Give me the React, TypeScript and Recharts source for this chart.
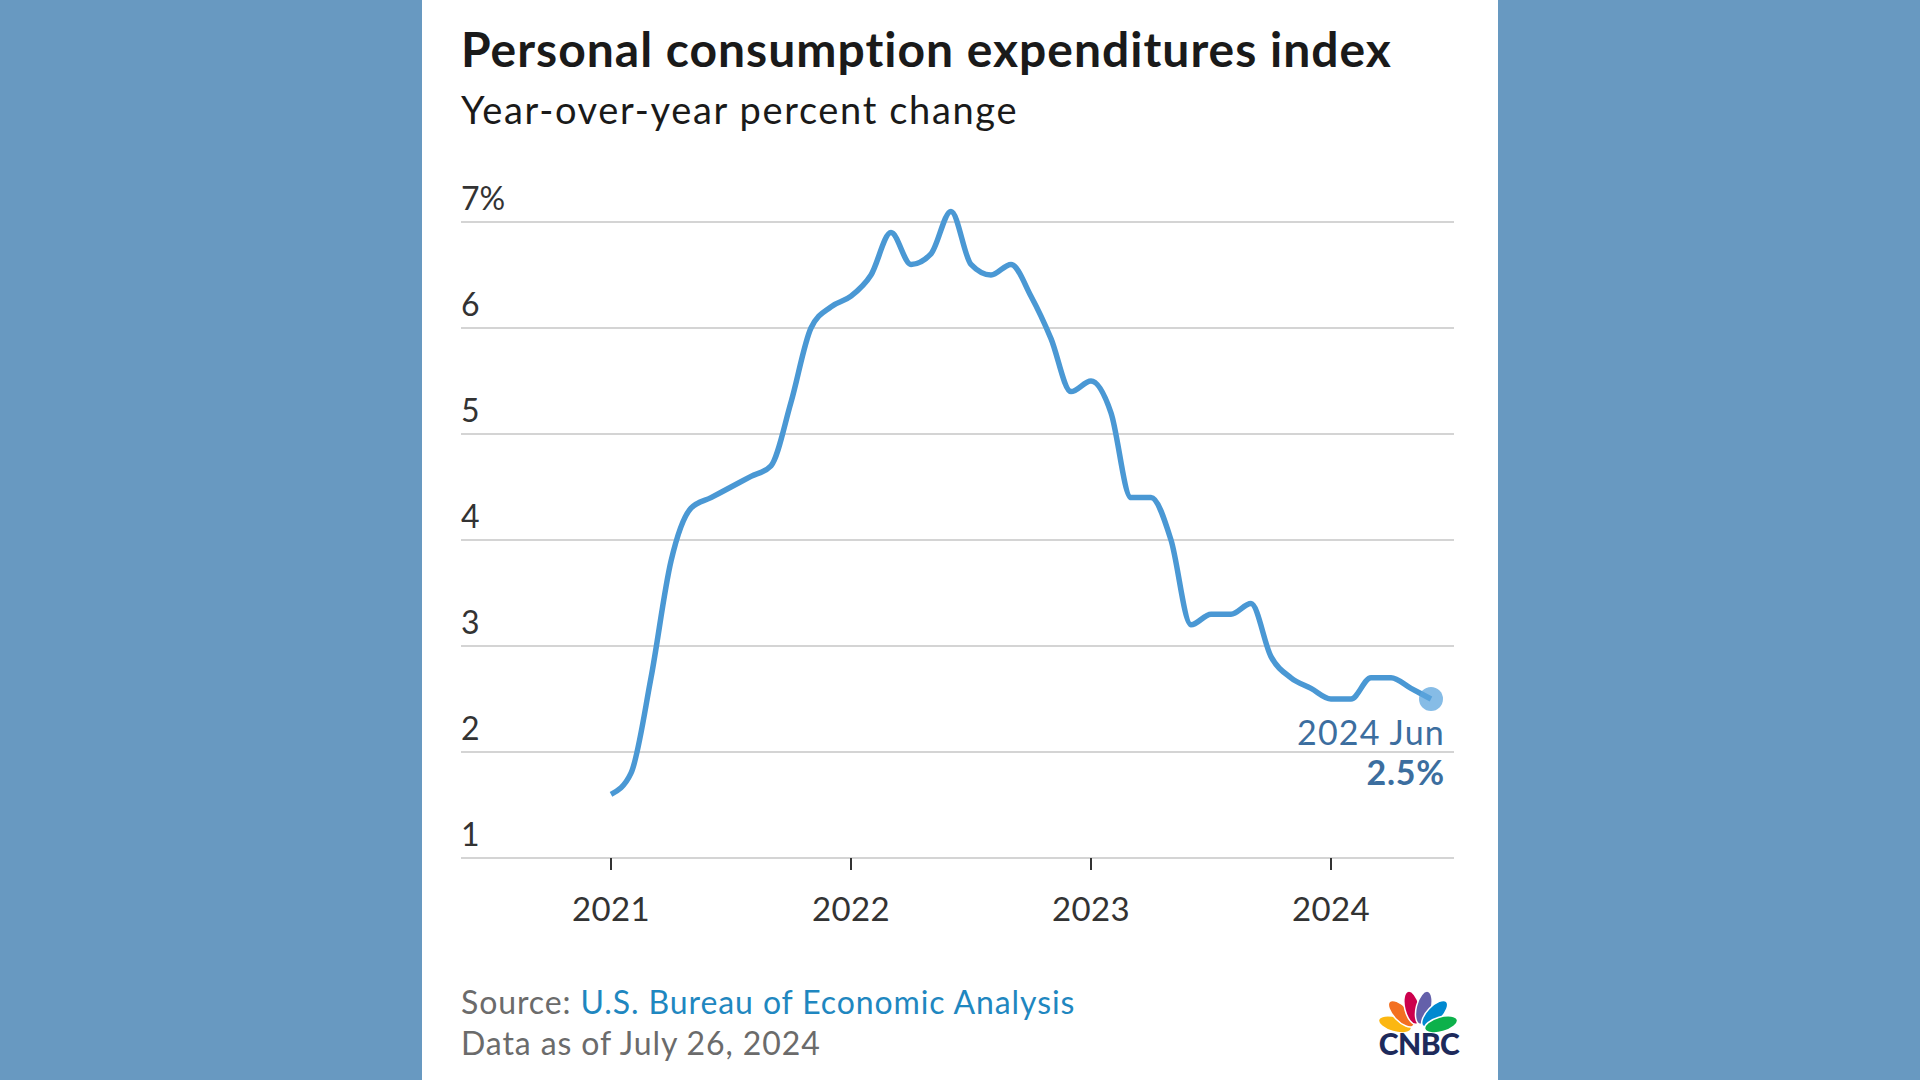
import { LineChart, Line, XAxis, YAxis, ReferenceLine } from 'recharts'

// Monthly PCE price index, year-over-year % change (Jan 2021 - Jun 2024)
const YEARS = ['2021', '2022', '2023', '2024']
const MONTH_NAMES = ['Jan', 'Feb', 'Mar', 'Apr', 'May', 'Jun', 'Jul', 'Aug', 'Sep', 'Oct', 'Nov', 'Dec']

const PCE_2021 = [1.6, 1.8, 2.7, 3.8, 4.3, 4.4, 4.5, 4.6, 4.7, 5.3, 6.0, 6.2]
const PCE_2022 = [6.3, 6.5, 6.9, 6.6, 6.7, 7.1, 6.6, 6.5, 6.6, 6.3, 5.9, 5.4]
const PCE_2023 = [5.5, 5.2, 4.4, 4.4, 4.0, 3.2, 3.3, 3.3, 3.4, 2.9, 2.7, 2.6]
const PCE_2024 = [2.5, 2.5, 2.7, 2.7, 2.6, 2.5]

const Y_TICKS = [1, 2, 3, 4, 5, 6, 7]

const PCE = [...PCE_2021, ...PCE_2022, ...PCE_2023, ...PCE_2024]
const MONTHS = YEARS.flatMap((y) => MONTH_NAMES.map((m) => `${y} ${m}`)).slice(0, PCE.length)
const X_TICKS = MONTHS.map((m, i) => (m.endsWith('Jan') ? i : -1)).filter((i) => i >= 0)

const data = MONTHS.map((label, i) => ({ t: i, label, pce: PCE[i] }))
const LAST = data.length - 1

const FONT = 'Lato, "Open Sans", sans-serif'
const LINE_COLOR = '#4a98d4'
const NOTE_COLOR = '#3c6e9f'
const GRID_COLOR = '#d4d4d4'

// card + plot geometry (card-relative)
const CARD_LEFT = 422
const CARD_W = 1076
const PLOT_LEFT = 39
const PLOT_BOTTOM = 858
// y domain runs a bit past 7 so the 7.1 peak isn't squashed or clipped
const Y_TOP = 7.25
const UNIT_PX = 106

function YTick(props: any) {
  const { y, payload } = props
  const v = payload.value
  return (
    <text x={PLOT_LEFT} y={y - 12} fill="#333" fontSize={32} fontFamily={FONT} textAnchor="start">
      {v === 7 ? `${v}%` : v}
    </text>
  )
}

function XTick(props: any) {
  const { x, payload } = props
  return (
    <text x={x} y={PLOT_BOTTOM + 63} fill="#333" fontSize={33} letterSpacing={0.4} fontFamily={FONT} textAnchor="middle">
      {MONTHS[payload.value].slice(0, 4)}
    </text>
  )
}

function EndDot(props: any) {
  const { cx, cy, index } = props
  if (index !== LAST) return <g key={`dot-${index}`} />
  const d = data[index]
  return (
    <g key={`dot-${index}`}>
      <circle cx={cx} cy={cy} r={12} fill="#5ea6dd" fillOpacity={0.75} />
      <text x={cx + 14} y={cy + 46} fill={NOTE_COLOR} fontSize={34} letterSpacing={1.2} fontFamily={FONT} textAnchor="end">
        {d.label}
      </text>
      <text x={cx + 14} y={cy + 86} fill={NOTE_COLOR} fontSize={34} letterSpacing={0.8} fontWeight={700} fontFamily={FONT} textAnchor="end">
        {`${d.pce.toFixed(1)}%`}
      </text>
    </g>
  )
}

function Logo() {
  const cx = 1418
  const cy = 1031
  const feathers = [
    { a: -74, c: '#fcb711' },
    { a: -44, c: '#f37021' },
    { a: -14, c: '#cc004c' },
    { a: 14, c: '#6460aa' },
    { a: 44, c: '#0089d0' },
    { a: 74, c: '#0db14b' },
  ]
  return (
    <g>
      {feathers.map((f) => (
        <ellipse
          key={f.a}
          cx={cx}
          cy={cy - 24}
          rx={7.5}
          ry={17}
          fill={f.c}
          stroke="#fff"
          strokeWidth={1.5}
          transform={`rotate(${f.a} ${cx} ${cy})`}
        />
      ))}
      <text
        x={cx + 1}
        y={1055}
        textAnchor="middle"
        fontFamily={FONT}
        fontWeight={900}
        fontSize={30}
        fill="#1d2a5b"
        letterSpacing={-0.5}
      >
        CNBC
      </text>
    </g>
  )
}

export default function App() {
  const plotTop = PLOT_BOTTOM - (Y_TOP - 1) * UNIT_PX
  return (
    <div style={{ position: 'absolute', left: 0, top: 0, width: 1920, height: 1080, background: '#6899c1', overflow: 'hidden' }}>
      <div style={{ position: 'absolute', left: CARD_LEFT, top: 0, width: CARD_W, height: 1080, background: '#fff' }}>
        <LineChart
          width={CARD_W}
          height={960}
          data={data}
          margin={{ top: plotTop, right: 44, left: 0, bottom: 42 }}
        >
          <XAxis
            dataKey="t"
            type="number"
            domain={[-7.5, 42.15]}
            ticks={X_TICKS}
            tick={<XTick />}
            tickSize={12}
            tickLine={{ stroke: '#333', strokeWidth: 2 }}
            axisLine={{ stroke: GRID_COLOR, strokeWidth: 2 }}
            height={60}
            interval={0}
          />
          <YAxis
            domain={[1, Y_TOP]}
            ticks={Y_TICKS}
            tick={<YTick />}
            axisLine={false}
            tickLine={false}
            width={PLOT_LEFT}
            interval={0}
          />
          {Y_TICKS.map((v) => (
            <ReferenceLine key={v} y={v} stroke={GRID_COLOR} strokeWidth={2} />
          ))}
          <Line
            dataKey="pce"
            type="monotone"
            stroke={LINE_COLOR}
            strokeWidth={5.5}
            dot={EndDot}
            activeDot={false}
            isAnimationActive={false}
          />
        </LineChart>
      </div>
      <svg width={1920} height={1080} style={{ position: 'absolute', left: 0, top: 0, pointerEvents: 'none' }}>
        <text x={461} y={67} fontFamily={FONT} fontWeight={700} fontSize={48} letterSpacing={1} fill="#1a1a1a">
          Personal consumption expenditures index
        </text>
        <text x={461} y={124} fontFamily={FONT} fontSize={38} letterSpacing={1.65} fill="#1a1a1a">
          Year-over-year percent change
        </text>
        <text x={461} y={1014} fontFamily={FONT} fontSize={32} letterSpacing={0.9} fill="#6b6b6b">
          Source: <tspan fill="#1f87c0">U.S. Bureau of Economic Analysis</tspan>
        </text>
        <text x={461} y={1055} fontFamily={FONT} fontSize={32} letterSpacing={0.9} fill="#6b6b6b">
          Data as of July 26, 2024
        </text>
        <Logo />
      </svg>
    </div>
  )
}
